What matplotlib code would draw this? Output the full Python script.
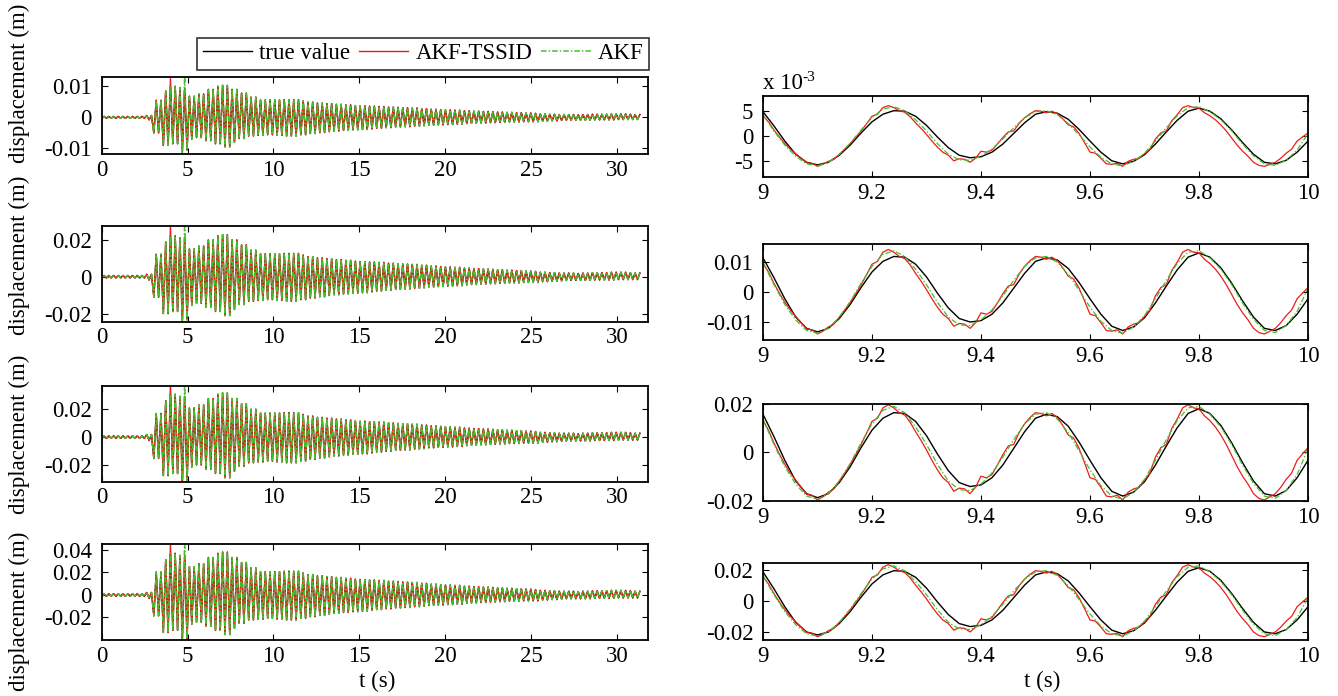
import numpy as np
import matplotlib.pyplot as plt
from matplotlib.ticker import FixedLocator, FuncFormatter

plt.rcParams['font.family'] = ['Liberation Serif', 'DejaVu Serif']
plt.rcParams['axes.unicode_minus'] = False
plt.rcParams['lines.scale_dashes'] = False

W, H = 1338, 696

# ---- full record (0-31.4 s), floor 1 envelope in mm, one value per 0.5 s bin ----
bin_width = 0.5
half_period = 0.138          # half of the ~0.276 s response period
record_end = 31.42
env_top_mm = [0.3, 0.3, 0.3, 0.3, 0.3, 0.6, 5.5, 8.5, 10.0, 9.5,
              6.8, 7.5, 9.0, 10.0, 10.3, 9.0, 7.8, 6.5, 5.6, 5.6,
              5.6, 5.7, 5.7, 5.3, 4.9, 4.6, 4.4, 4.2, 4.0, 3.8,
              3.7, 3.6, 3.5, 3.3, 3.2, 3.1, 3.0, 2.8, 2.6, 2.5,
              2.4, 2.3, 2.1, 2.0, 1.9, 1.8, 1.7, 1.6, 1.5, 1.4,
              1.3, 1.1, 1.0, 0.9, 0.9, 0.8, 0.9, 1.0, 1.0, 1.1,
              1.1, 1.0, 0.9]
env_bot_mm = [-0.3, -0.3, -0.3, -0.3, -0.3, -0.8, -5.0, -9.0, -8.5, -10.5,
              -7.0, -6.5, -7.5, -8.5, -9.5, -8.0, -6.8, -6.0, -5.8, -5.6,
              -5.8, -6.0, -6.0, -5.6, -5.2, -4.9, -4.6, -4.4, -4.2, -4.0,
              -3.9, -3.7, -3.5, -3.3, -3.1, -3.0, -2.8, -2.7, -2.5, -2.4,
              -2.3, -2.2, -2.0, -1.9, -1.8, -1.7, -1.6, -1.5, -1.5, -1.4,
              -1.4, -1.2, -1.1, -1.0, -0.9, -0.9, -0.9, -0.8, -0.8, -0.8,
              -0.7, -0.7, -0.7]
# isolated overshoots of the estimators (time s, value mm)
tssid_spike_t = [4.00, 4.69]
tssid_spike_mm = [12.5, -12.0]
akf_spike_t = [4.69, 4.83]
akf_spike_mm = [-12.8, 13.6]
long_floor_scale = [1.0, 2.2, 3.1, 3.7]
long_ylims = [(-0.0118, 0.0130), (-0.0242, 0.0273), (-0.0323, 0.0372), (-0.0400, 0.0453)]
long_yticks = [[-0.01, 0, 0.01], [-0.02, 0, 0.02], [-0.02, 0, 0.02], [-0.02, 0, 0.02, 0.04]]

# ---- close-up 9-10 s, floor 1 in mm ----
true_zoom_mm = [4.8, 2.0, -1.0, -3.6, -5.2, -5.7, -5.2, -3.8, -1.8, 0.6,
                2.8, 4.3, 5.0, 4.9, 3.9, 2.1, -0.2, -2.3, -3.8, -4.3,
                -4.1, -3.2, -1.6, 0.5, 2.6, 4.3, 4.8, 4.5, 3.3, 1.3,
                -1.0, -3.2, -4.9, -5.5, -5.0, -3.7, -1.6, 0.8, 3.1, 4.9,
                5.5, 4.9, 3.4, 1.2, -1.3, -3.6, -5.2, -5.5, -4.8, -3.2,
                -1.0]
akf_zoom_mm = [4.2, 1.0, -1.8, -4.0, -5.5, -5.9, -5.2, -3.6, -1.4, 1.2,
               3.6, 5.3, 5.8, 5.0, 3.2, 1.0, -1.5, -3.6, -4.7, -4.8,
               -4.0, -2.6, -0.6, 1.6, 3.6, 4.8, 5.0, 4.2, 2.5, 0.2,
               -2.2, -4.2, -5.5, -5.9, -5.0, -3.4, -1.0, 1.6, 4.0, 5.6,
               5.8, 4.8, 3.2, 1.0, -1.6, -3.9, -5.5, -5.8, -4.8, -2.8,
               0.5]
tssid_zoom_mm = [4.0, 2.8, 1.2, -0.2, -1.5, -2.6, -3.5, -4.4, -5.3, -5.4,
                 -6.0, -5.6, -5.0, -4.6, -3.6, -2.6, -1.5, -0.3, 1.0, 2.4,
                 3.9, 4.3, 5.6, 6.0, 5.6, 5.0, 4.7, 3.8, 2.6, 1.5,
                 0.3, -1.0, -2.2, -3.2, -3.8, -4.9, -4.5, -4.6, -5.2, -4.4,
                 -3.0, -3.2, -2.8, -1.6, -0.3, 0.8, 1.0, 2.5, 3.6, 4.4,
                 5.0, 4.9, 4.6, 4.9, 4.4, 3.4, 2.2, 1.8, 0.5, -1.3,
                 -3.2, -3.4, -4.4, -5.5, -5.6, -5.4, -6.0, -5.0, -4.6, -4.4,
                 -3.5, -2.6, -0.6, 0.6, 1.0, 3.0, 4.2, 5.6, 6.0, 5.6,
                 5.5, 4.6, 4.0, 3.2, 2.2, 1.0, -0.4, -1.8, -3.0, -4.0,
                 -5.2, -5.8, -6.0, -5.6, -5.2, -4.4, -3.4, -2.6, -1.0, -0.2,
                 0.6]
zoom_floor_scale = [1.0, 2.35, 3.3, 3.9]
zoom_ylims = [(-8.1, 7.9), (-0.0161, 0.0159), (-0.0202, 0.0201), (-0.0255, 0.0245)]
zoom_yticks = [[-5, 0, 5], [-0.01, 0, 0.01], [-0.02, 0, 0.02], [-0.02, 0, 0.02]]
zoom_xticks = [9, 9.2, 9.4, 9.6, 9.8, 10]
long_xticks = [0, 5, 10, 15, 20, 25, 30]

# axes boxes in pixels: (left, right, top, bottom)
left_boxes = [(101.7, 648, 77, 154), (101.7, 648, 226, 321.7),
              (101.7, 648, 385.7, 481.7), (101.7, 648, 544, 640)]
right_boxes = [(763, 1308, 96, 177), (763, 1308, 244, 340),
               (763, 1308, 404, 501), (763, 1308, 563, 640)]
ylabel_centers = [83, 255, 434, 611]

c_true, c_tssid, c_akf = 'black', '#ee1c1c', '#44c02c'
akf_dash = (0, (4, 1.5, 1, 1.5))
fs = 16.5

fig = plt.figure(figsize=(W / 100, H / 100), dpi=100)


def box_axes(b):
    l, r, t, bt = b
    return fig.add_axes([l / W, 1 - bt / H, (r - l) / W, (bt - t) / H])


def style(ax):
    ax.tick_params(direction='in', top=True, right=True, length=4.5, width=0.8,
                   labelsize=fs)
    ax.tick_params(axis='x', pad=4)
    ax.tick_params(axis='y', pad=7)
    for s in ax.spines.values():
        s.set_linewidth(1.3)
    fmt = FuncFormatter(lambda v, p: '%g' % v)
    ax.xaxis.set_major_formatter(fmt)
    ax.yaxis.set_major_formatter(fmt)


# full-record extrema
t_ext = np.arange(0, record_end, half_period)
bins = (t_ext // bin_width).astype(int)
k = np.arange(len(t_ext))
base_mm = np.where(k % 2 == 1, np.array(env_top_mm)[bins], np.array(env_bot_mm)[bins])


def with_spikes(vals, ts, vs):
    out = vals.copy()
    for t, v in zip(ts, vs):
        out[np.argmin(np.abs(t_ext - t))] = v
    return out


tssid_mm = with_spikes(base_mm, tssid_spike_t, tssid_spike_mm)
akf_mm = with_spikes(base_mm, akf_spike_t, akf_spike_mm)

t_coarse = np.linspace(9.0, 10.0, len(true_zoom_mm))
t_fine = np.linspace(9.0, 10.0, len(tssid_zoom_mm))

for i in range(4):
    # long record
    ax = box_axes(left_boxes[i])
    sc = long_floor_scale[i] * 1e-3
    h1, = ax.plot(t_ext, base_mm * sc, color=c_true, lw=1.0, label='true value')
    h2, = ax.plot(t_ext, tssid_mm * sc, color=c_tssid, lw=1.0, label='AKF-TSSID')
    h3, = ax.plot(t_ext, akf_mm * sc, color=c_akf, lw=1.1, ls=akf_dash, label='AKF')
    ax.set_xlim(0, 31.8)
    ax.set_ylim(*long_ylims[i])
    ax.xaxis.set_major_locator(FixedLocator(long_xticks))
    ax.yaxis.set_major_locator(FixedLocator(long_yticks[i]))
    style(ax)
    ax.set_ylabel('displacement (m)', fontsize=fs)
    l, r, t, bt = left_boxes[i]
    ax.yaxis.set_label_coords((30 - l) / (r - l), (bt - ylabel_centers[i]) / (bt - t))
    if i == 0:
        ax.legend(handles=[h1, h2, h3], loc='lower right', ncol=3,
                  bbox_to_anchor=(649 / W, 1 - 70 / H), bbox_transform=fig.transFigure,
                  fontsize=fs, frameon=True, fancybox=False, edgecolor='black',
                  handlelength=2.15, handletextpad=0.3, columnspacing=0.4,
                  borderpad=0.25, borderaxespad=0)
        ax.get_legend().get_frame().set_linewidth(1.2)

    # close-up 9-10 s
    az = box_axes(right_boxes[i])
    zs = 1.0 if i == 0 else zoom_floor_scale[i] * 1e-3
    az.plot(t_coarse, np.array(true_zoom_mm) * zs, color=c_true, lw=1.0)
    az.plot(t_fine, np.array(tssid_zoom_mm) * zs, color=c_tssid, lw=0.9)
    az.plot(t_coarse, np.array(akf_zoom_mm) * zs, color=c_akf, lw=0.9, ls=akf_dash)
    az.set_xlim(9, 10)
    az.set_ylim(*zoom_ylims[i])
    az.xaxis.set_major_locator(FixedLocator(zoom_xticks))
    az.yaxis.set_major_locator(FixedLocator(zoom_yticks[i]))
    style(az)

fig.text(377 / W, 1 - 681 / H, 't (s)', fontsize=fs, ha='center', va='center')
fig.text(1042 / W, 1 - 681 / H, 't (s)', fontsize=fs, ha='center', va='center')
# exponent note for the first close-up
fig.text(763 / W, 1 - 89 / H, 'x 10', fontsize=fs, va='baseline', ha='left')
fig.text(802 / W, 1 - 81 / H, '-3', fontsize=11, va='baseline', ha='left')

fig.savefig('out.png', dpi=100)
